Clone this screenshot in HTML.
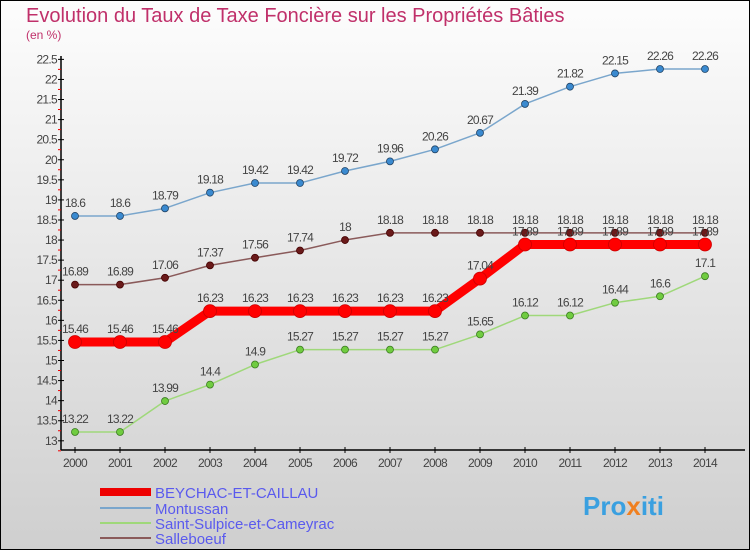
<!DOCTYPE html>
<html><head><meta charset="utf-8"><style>
body{margin:0}
#wrap{width:750px;height:550px;position:relative;overflow:hidden;font-family:"Liberation Sans",sans-serif}
</style></head><body>
<div id="wrap">
<svg id="svg" width="750" height="550" xmlns="http://www.w3.org/2000/svg">
<defs><linearGradient id="bg" x1="0" y1="0" x2="0" y2="1"><stop offset="0" stop-color="#fdfdfd"/><stop offset="1" stop-color="#cfcfcf"/></linearGradient></defs>
<rect x="0.5" y="0.5" width="749" height="549" fill="url(#bg)" stroke="#000"/>
<text x="26" y="22" font-size="20" fill="#c0306a">Evolution du Taux de Taxe Foncière sur les Propriétés Bâties</text>
<text x="26" y="39" font-size="12" fill="#c0306a">(en %)</text>
<g id="axes"></g><g id="series"></g>
<g>
<line x1="100" y1="492" x2="151" y2="492" stroke="#e00" stroke-width="8"/>
<text x="155" y="498" font-size="15" fill="#5a5aee">BEYCHAC-ET-CAILLAU</text>
<line x1="100" y1="508" x2="151" y2="508" stroke="#7aa6cc" stroke-width="2"/>
<text x="155" y="514" font-size="15" fill="#5a5aee">Montussan</text>
<line x1="100" y1="523" x2="151" y2="523" stroke="#9fd87a" stroke-width="2"/>
<text x="155" y="529" font-size="15" fill="#5a5aee">Saint-Sulpice-et-Cameyrac</text>
<line x1="100" y1="538" x2="151" y2="538" stroke="#8a5a5a" stroke-width="2"/>
<text x="155" y="544" font-size="15" fill="#5a5aee">Salleboeuf</text>
</g>
<text x="583" y="515" font-size="26" font-weight="bold" fill="#3aa0e0">Pro<tspan fill="#f08020">x</tspan>iti</text>
</svg></div>
<script>
const years=[2000,2001,2002,2003,2004,2005,2006,2007,2008,2009,2010,2011,2012,2013,2014];
const beychac=[15.46,15.46,15.46,16.23,16.23,16.23,16.23,16.23,16.23,17.04,17.89,17.89,17.89,17.89,17.89];
const montussan=[18.6,18.6,18.79,19.18,19.42,19.42,19.72,19.96,20.26,20.67,21.39,21.82,22.15,22.26,22.26];
const saintSulpice=[13.22,13.22,13.99,14.4,14.9,15.27,15.27,15.27,15.27,15.65,16.12,16.12,16.44,16.6,17.1];
const salleboeuf=[16.89,16.89,17.06,17.37,17.56,17.74,18,18.18,18.18,18.18,18.18,18.18,18.18,18.18,18.18];
const yTicks=[13,13.5,14,14.5,15,15.5,16,16.5,17,17.5,18,18.5,19,19.5,20,20.5,21,21.5,22,22.5];
const NS="http://www.w3.org/2000/svg";
const xs=i=>75+i*45;
const ys=v=>440.8-(v-13)*40.15;
function mk(tag,attrs,parent,txt){const e=document.createElementNS(NS,tag);for(const k in attrs)e.setAttribute(k,attrs[k]);if(txt!==undefined)e.textContent=txt;parent.appendChild(e);return e;}
const ax=document.getElementById('axes');
let e=mk('line',{x1:61,y1:56,x2:61,y2:450,stroke:'#000','stroke-width':1.5},ax);


e=mk('line',{x1:61,y1:450,x2:745,y2:450,stroke:'#000','stroke-width':1.5},ax);


yTicks.forEach(v=>{const y=ys(v);
 mk('line',{x1:58,y1:y,x2:64,y2:y,stroke:'#000'},ax);
 mk('line',{x1:58,y1:y+10,x2:61,y2:y+10,stroke:'#e00'},ax);
 e=mk('text',{x:57,y:y+4,'font-size':12,fill:'#444','text-anchor':'end','letter-spacing':'-0.7'},ax,String(v));
 
 
});
years.forEach((yr,i)=>{const x=xs(i);
 mk('line',{x1:x,y1:447,x2:x,y2:453,stroke:'#000'},ax);
 e=mk('text',{x:x,y:467,'font-size':12,fill:'#444','text-anchor':'middle','letter-spacing':'-0.7'},ax,String(yr));
 
 
});
const sg=document.getElementById('series');
function series(name,data,color,width,r,dot,dotStroke){
 const g=mk('g',{},sg);
 
 
 const pts=data.map((v,i)=>xs(i)+','+ys(v)).join(' ');
 e=mk('polyline',{points:pts,fill:'none',stroke:color,'stroke-width':width,'stroke-linejoin':'round'},g);
 
 
 data.forEach((v,i)=>{
  e=mk('circle',{cx:xs(i),cy:ys(v),r:r,fill:dot,stroke:dotStroke,'stroke-width':0.8},g);
  
  
  e=mk('text',{x:xs(i),y:ys(v)-9,'font-size':12,fill:'#444','text-anchor':'middle','letter-spacing':'-0.8'},g,String(v));
  
  
 });
}
series('montussan',montussan,'#7aa6cc',1.5,3.5,'#3a8ad0','#246');
series('saint-sulpice',saintSulpice,'#9fd87a',1.5,3.5,'#70cc40','#3a7a20');
series('salleboeuf',salleboeuf,'#8a5a5a',1.5,3.5,'#6a1a1a','#400');
series('beychac',beychac,'#f00',9,6.5,'#f00','#c00');
</script>
</body></html>
